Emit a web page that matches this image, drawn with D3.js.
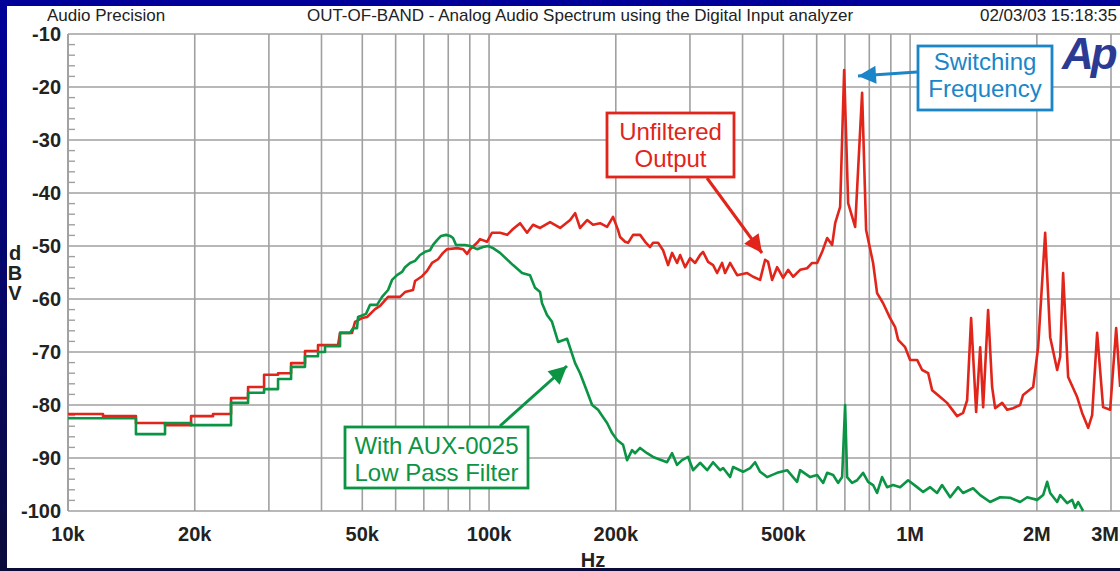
<!DOCTYPE html>
<html>
<head>
<meta charset="utf-8">
<script src="https://cdn.jsdelivr.net/npm/d3@7"></script>
<style>
  html, body { margin: 0; padding: 0; background: #000060; }
  svg { display: block; font-family: "Liberation Sans", Arial, sans-serif; }
</style>
</head>
<body>
<svg width="1120" height="571"></svg>
<script>
// spectrum (frequency in kHz, level in dBV)
const redKHz = [10, 12.11, 12.11, 14.5, 14.5, 17, 17, 19.6, 19.6, 22.1, 22.1, 24.39, 24.39, 26.77, 26.77, 29.22, 29.22, 31.54, 31.54, 33.87, 33.87, 36.55, 36.55, 39.25, 39.25, 43.78,
  44.27, 47.27, 48.05, 49.93, 51.32, 53.61, 55.1, 57.57, 61.46, 63.16, 65.99, 66.72, 69.33, 71.24, 73.21, 75.65, 77.75, 79.46, 83.95, 86.75, 88.66, 90.14, 93.65, 95.19, 98.9,
  101.6, 106.2, 110.4, 114, 118.5, 123.1, 127.2, 132.2, 139.6, 147.5, 155.8, 160.1, 164.5, 171, 176.6, 183.5, 190.7, 197, 202.5, 204.7, 210.4, 213.9, 219.8, 228.4, 234.8,
  241.2, 245.2, 252, 259, 266.2, 272.1, 279.6, 284.3, 292.2, 300.3, 308.6, 317.1, 322.3, 331.3, 340.5, 348, 357.6, 363.6, 373.6, 388.3, 410.1, 423.8, 440.3, 452.5, 460,
  470.2, 483.2, 499.4, 513.2, 527.4, 548, 569.4, 585.2, 601.5, 618.2, 635.4, 652.9, 663.8, 682.1, 697.2, 712.6, 740.4, 769.1, 786.2, 816.8, 834.8, 862.8, 896.5, 921.4,
  936.6, 973.1, 1000, 1039, 1068, 1104, 1128, 1179, 1224, 1293, 1336, 1366, 1396, 1435, 1467, 1491, 1532, 1566, 1592, 1654, 1700, 1757, 1825, 1855, 1960, 2014, 2093,
  2151, 2235, 2272, 2309, 2373, 2493, 2562, 2648, 2706, 2781, 2873, 2986, 3086, 3154]
const redDb = [-81.7, -81.7, -82.1, -82.1, -83.4, -83.4, -83.8, -83.8, -82.1, -82.1, -81.7, -81.7, -78.7, -78.7, -76.6, -76.6, -74.3, -74.3, -74.0, -74.0, -72.1, -72.1, -69.8, -69.8, -68.7, -68.7,
  -66.4, -66.4, -64.3, -63.6, -63.4, -61.9, -61.3, -59.6, -59.6, -58.7, -58.3, -56.6, -55.7, -54.7, -53.2, -52.5, -51.3, -50.6, -50.4, -50.6, -51.5, -50.6, -49.4, -48.7, -49.2,
  -47.5, -47.5, -47.9, -46.8, -45.7, -47.5, -46.0, -46.6, -45.5, -46.6, -45.1, -43.8, -46.6, -45.1, -46.0, -45.7, -46.4, -44.5, -47.0, -48.3, -49.2, -49.4, -47.9, -47.9, -49.2,
  -50.2, -49.4, -49.4, -50.8, -53.6, -51.3, -53.2, -51.7, -54.0, -52.3, -53.2, -51.7, -51.1, -53.0, -53.6, -55.1, -53.2, -55.1, -53.2, -55.5, -55.1, -55.8, -56.4, -52.6, -53.0,
  -56.4, -54.0, -56.0, -54.5, -55.8, -54.5, -54.2, -53.2, -53.2, -51.1, -48.5, -49.8, -45.7, -42.6, -16.8, -41.9, -46.4, -21.1, -47.0, -53.2, -58.9, -60.8, -63.6, -65.3,
  -67.7, -69.1, -71.5, -71.5, -73.4, -74.0, -77.2, -78.5, -79.6, -82.1, -81.5, -79.1, -63.6, -81.3, -69.1, -80.4, -62.1, -76.6, -80.6, -79.6, -80.9, -80.6, -80.0, -78.1, -76.6, -69.1, -47.5,
  -67.2, -73.4, -70.9, -55.1, -74.7, -78.5, -81.5, -84.3, -81.9, -66.4, -80.4, -80.9, -65.5, -76.6]

const greenKHz = [10, 14.5, 14.5, 17, 17, 19.6, 19.6, 24.39, 24.39, 26.77, 26.77, 29.22, 29.22, 31.54, 31.54, 33.87, 33.87, 36.55, 36.55, 39.25, 39.25, 40.78, 40.78, 44.27, 44.27, 46.75,
  47.53, 48.58, 48.85, 51.04, 52.17, 54.2, 55.7, 57.57, 58.83, 60.45, 62.13, 63.16, 64.92, 66.72, 68.57, 70.47, 72.42, 73.62, 75.24, 76.91, 79.05, 80.79, 82.12, 83.49, 87.7,
  90.14, 93.65, 96.76, 99.45, 102.2, 106.2, 114, 119.8, 125.1, 128.6, 132.2, 133.6, 137.3, 141.1, 145.9, 153.2, 160.1, 164.5, 171, 175.7, 181.5, 186.6, 190.7, 196, 201.4,
  208.1, 212.7, 218.6, 222.3, 228.4, 237.3, 245.2, 264.7, 272.1, 279.6, 287.3, 297, 305.3, 317.1, 329.6, 340.5, 353.8, 359.7, 373.6, 379.8, 401.2, 416.9, 428.4, 440.3,
  457.5, 483.2, 510.4, 539, 548, 578.9, 601.5, 621.6, 635.4, 656.4, 674.5, 689.5, 700.9, 708.6, 728.1, 748.3, 773.4, 794.8, 816.8, 834.8, 857.9, 881.7, 911.1, 946.7, 989,
  1039, 1074, 1116, 1159, 1191, 1245, 1300, 1336, 1411, 1467, 1549, 1636, 1728, 1825, 1897, 2003, 2070, 2116, 2151, 2235, 2272, 2360, 2426, 2466, 2506, 2576]
const greenDb = [-82.5, -82.5, -85.5, -85.5, -83.4, -83.4, -83.8, -83.8, -79.6, -79.6, -77.7, -77.7, -77.0, -77.0, -75.1, -75.1, -72.8, -72.8, -70.8, -70.8, -70.0, -70.0, -68.9, -68.9, -66.4, -66.4,
  -65.5, -65.5, -63.4, -62.8, -61.1, -61.1, -59.6, -58.3, -56.4, -55.5, -54.9, -54.0, -53.2, -52.8, -51.7, -51.1, -50.8, -49.8, -48.9, -48.1, -47.9, -48.1, -48.5, -49.8, -49.8,
  -50.0, -50.6, -50.2, -50.0, -50.4, -51.3, -53.6, -55.1, -55.5, -57.9, -58.7, -60.8, -63.0, -64.3, -68.1, -67.5, -72.1, -74.0, -77.5, -80.0, -80.9, -82.3, -83.4, -85.3, -86.6,
  -87.5, -90.4, -88.5, -89.1, -88.1, -89.1, -89.8, -90.8, -89.1, -91.3, -90.4, -89.8, -92.3, -90.9, -92.3, -90.8, -92.3, -91.9, -93.6, -91.7, -92.6, -91.9, -90.8, -92.6,
  -93.6, -92.8, -92.3, -94.5, -92.3, -93.6, -93.2, -94.7, -92.8, -93.2, -94.7, -93.6, -80.0, -93.6, -94.7, -94.2, -92.8, -94.5, -95.1, -96.6, -93.6, -95.5, -95.1, -95.5, -94.2,
  -95.5, -96.4, -95.5, -96.6, -95.1, -97.4, -95.5, -96.6, -95.7, -97.0, -98.3, -97.4, -97.5, -98.3, -97.4, -97.9, -97.0, -94.5, -96.6, -98.3, -97.0, -98.5, -97.9, -99.4, -98.3, -100.0]

// axis labels
const yTicks = [-10, -20, -30, -40, -50, -60, -70, -80, -90, -100]
const xTickValues = [1e4, 2e4, 5e4, 1e5, 2e5, 5e5, 1e6, 2e6, 3e6]
const xTickLabels = ['10k', '20k', '50k', '100k', '200k', '500k', '1M', '2M', '3M']

const colors = { red: '#e1251b', green: '#0a9444', blue: '#1a86c8', grid: '#a0a0a0', text: '#222' }

const svg = d3.select('svg')
const width = 1120, height = 571
const plot = { left: 68, top: 34, right: 1120, bottom: 511 }

const x = d3.scaleLog().domain([1e4, 3e6]).range([68, 1111])
const y = d3.scaleLinear().domain([-100, -10]).range([511, 34])

drawFrame()
drawGrid()
drawTraces()
drawAnnotations()

// dark blue surround with the white sheet on top
function drawFrame() {
    const defs = svg.append('defs')
    const grad = defs.append('linearGradient').attr('id', 'bg').attr('x1', 0).attr('y1', 0).attr('x2', 0).attr('y2', 1)
    grad.append('stop').attr('offset', '0%').attr('stop-color', '#00009a')
    grad.append('stop').attr('offset', '100%').attr('stop-color', '#0b0b3a')

    defs.append('clipPath').attr('id', 'plotClip')
        .append('rect')
            .attr('x', plot.left).attr('y', plot.top - 2)
            .attr('width', plot.right - plot.left).attr('height', plot.bottom - plot.top + 4)

    const arrow = (id, col) => defs.append('marker')
        .attr('id', id).attr('viewBox', '0 0 10 10').attr('refX', 10).attr('refY', 5)
        .attr('markerWidth', 7).attr('markerHeight', 6).attr('markerUnits', 'strokeWidth')
        .attr('orient', 'auto')
        .append('path').attr('d', 'M0,0 L10,5 L0,10 z').attr('fill', col)
    arrow('arrRed', colors.red)
    arrow('arrGreen', colors.green)
    arrow('arrBlue', colors.blue)

    svg.append('rect').attr('width', width).attr('height', height).attr('fill', 'url(#bg)')
    svg.append('rect').attr('x', 7).attr('y', 6).attr('width', width - 7).attr('height', 562).attr('fill', '#fff')

    svg.append('text').attr('x', 47).attr('y', 21).attr('font-size', 17).attr('fill', colors.text).text('Audio Precision')
    svg.append('text').attr('x', 580).attr('y', 21).attr('font-size', 17).attr('text-anchor', 'middle').attr('fill', colors.text)
        .text('OUT-OF-BAND - Analog Audio Spectrum using the Digital Input analyzer')
    svg.append('text').attr('x', 1117).attr('y', 21).attr('font-size', 17).attr('text-anchor', 'end').attr('fill', colors.text)
        .text('02/03/03 15:18:35')
}

function drawGrid() {
    const g = svg.append('g')

    // vertical lines at every 1..9 multiple
    const vLines = []
    for (let dec = 1e4; dec <= 1e6; dec *= 10) {
        for (let m = 1; m <= 9; m++) {
            const f = dec * m
            if (f <= 3e6) vLines.push(f)
        }
    }
    g.selectAll('.vgrid').data(vLines).enter()
        .append('line')
            .attr('x1', d => x(d)).attr('x2', d => x(d))
            .attr('y1', plot.top).attr('y2', plot.bottom)
            .attr('stroke', colors.grid).attr('stroke-width', 1.6)

    g.selectAll('.hgrid').data(yTicks).enter()
        .append('line')
            .attr('x1', plot.left).attr('x2', plot.right)
            .attr('y1', d => y(d)).attr('y2', d => y(d))
            .attr('stroke', colors.grid).attr('stroke-width', 1.6)

    // little 2 dB ticks on the left edge
    const minor = d3.range(-98, -10, 2).filter(d => d % 10 !== 0)
    g.selectAll('.minor').data(minor).enter()
        .append('line')
            .attr('x1', plot.left).attr('x2', plot.left + 7)
            .attr('y1', d => y(d)).attr('y2', d => y(d))
            .attr('stroke', colors.grid).attr('stroke-width', 1.4)

    g.append('line').attr('x1', plot.left).attr('x2', plot.left).attr('y1', plot.top).attr('y2', plot.bottom)
        .attr('stroke', colors.grid).attr('stroke-width', 1.8)

    // tick labels
    g.selectAll('.ylab').data(yTicks).enter()
        .append('text')
            .attr('x', 61).attr('y', d => y(d) + 7)
            .attr('text-anchor', 'end').attr('font-size', 20).attr('font-weight', 'bold')
            .attr('fill', colors.text)
            .text(d => d)

    // the last label sits against the right edge, so it is right-aligned
    const last = xTickValues.length - 1
    g.selectAll('.xlab').data(xTickValues).enter()
        .append('text')
            .attr('x', (d, i) => i === last ? 1119 : x(d)).attr('y', 541)
            .attr('text-anchor', (d, i) => i === last ? 'end' : 'middle')
            .attr('font-size', 20).attr('font-weight', 'bold')
            .attr('fill', colors.text)
            .text((d, i) => xTickLabels[i])

    g.append('text').attr('x', 593).attr('y', 567).attr('text-anchor', 'middle')
        .attr('font-size', 20).attr('font-weight', 'bold').attr('fill', colors.text).text('Hz')

    g.selectAll('.dbv').data(['d', 'B', 'V']).enter()
        .append('text')
            .attr('x', 15).attr('y', (d, i) => 260 + i * 20)
            .attr('text-anchor', 'middle').attr('font-size', 20).attr('font-weight', 'bold')
            .attr('fill', colors.text)
            .text(d => d)
}

function drawTraces() {
    const line = d3.line().x(d => x(d[0] * 1000)).y(d => y(d[1]))
    const g = svg.append('g').attr('clip-path', 'url(#plotClip)')

    g.append('path')
        .datum(d3.zip(redKHz, redDb))
        .attr('d', line)
        .attr('fill', 'none').attr('stroke', colors.red).attr('stroke-width', 2.6)
        .attr('stroke-linejoin', 'round')

    g.append('path')
        .datum(d3.zip(greenKHz, greenDb))
        .attr('d', line)
        .attr('fill', 'none').attr('stroke', colors.green).attr('stroke-width', 2.6)
        .attr('stroke-linejoin', 'round')
}

// boxed callouts with arrows, plus the Ap logo
function drawAnnotations() {
    const callout = (box, lines, col, from, to, marker) => {
        svg.append('rect')
            .attr('x', box[0]).attr('y', box[1]).attr('width', box[2]).attr('height', box[3])
            .attr('fill', '#fff').attr('stroke', col).attr('stroke-width', 2.8)
        lines.forEach((t, i) => {
            svg.append('text')
                .attr('x', box[0] + box[2] / 2).attr('y', t.y)
                .attr('text-anchor', 'middle').attr('font-size', 24).attr('fill', col)
                .text(t.text)
        })
        svg.append('line')
            .attr('x1', from[0]).attr('y1', from[1]).attr('x2', to[0]).attr('y2', to[1])
            .attr('stroke', col).attr('stroke-width', 3)
            .attr('marker-end', `url(#${marker})`)
    }

    callout([607, 113, 127, 64], [{ text: 'Unfiltered', y: 140 }, { text: 'Output', y: 167 }],
        colors.red, [707, 178], [762, 253], 'arrRed')
    callout([918, 46, 134, 64], [{ text: 'Switching', y: 70 }, { text: 'Frequency', y: 97 }],
        colors.blue, [917, 72], [858, 76], 'arrBlue')
    callout([345, 427, 183, 61], [{ text: 'With AUX-0025', y: 454 }, { text: 'Low Pass Filter', y: 481 }],
        colors.green, [500, 426], [567, 366], 'arrGreen')

    svg.append('text')
        .attr('x', 1062).attr('y', 69)
        .attr('font-size', 44).attr('font-weight', 'bold').attr('font-style', 'italic')
        .attr('letter-spacing', -3)
        .attr('fill', '#2b3b93')
        .text('Ap')
}
</script>
</body>
</html>
